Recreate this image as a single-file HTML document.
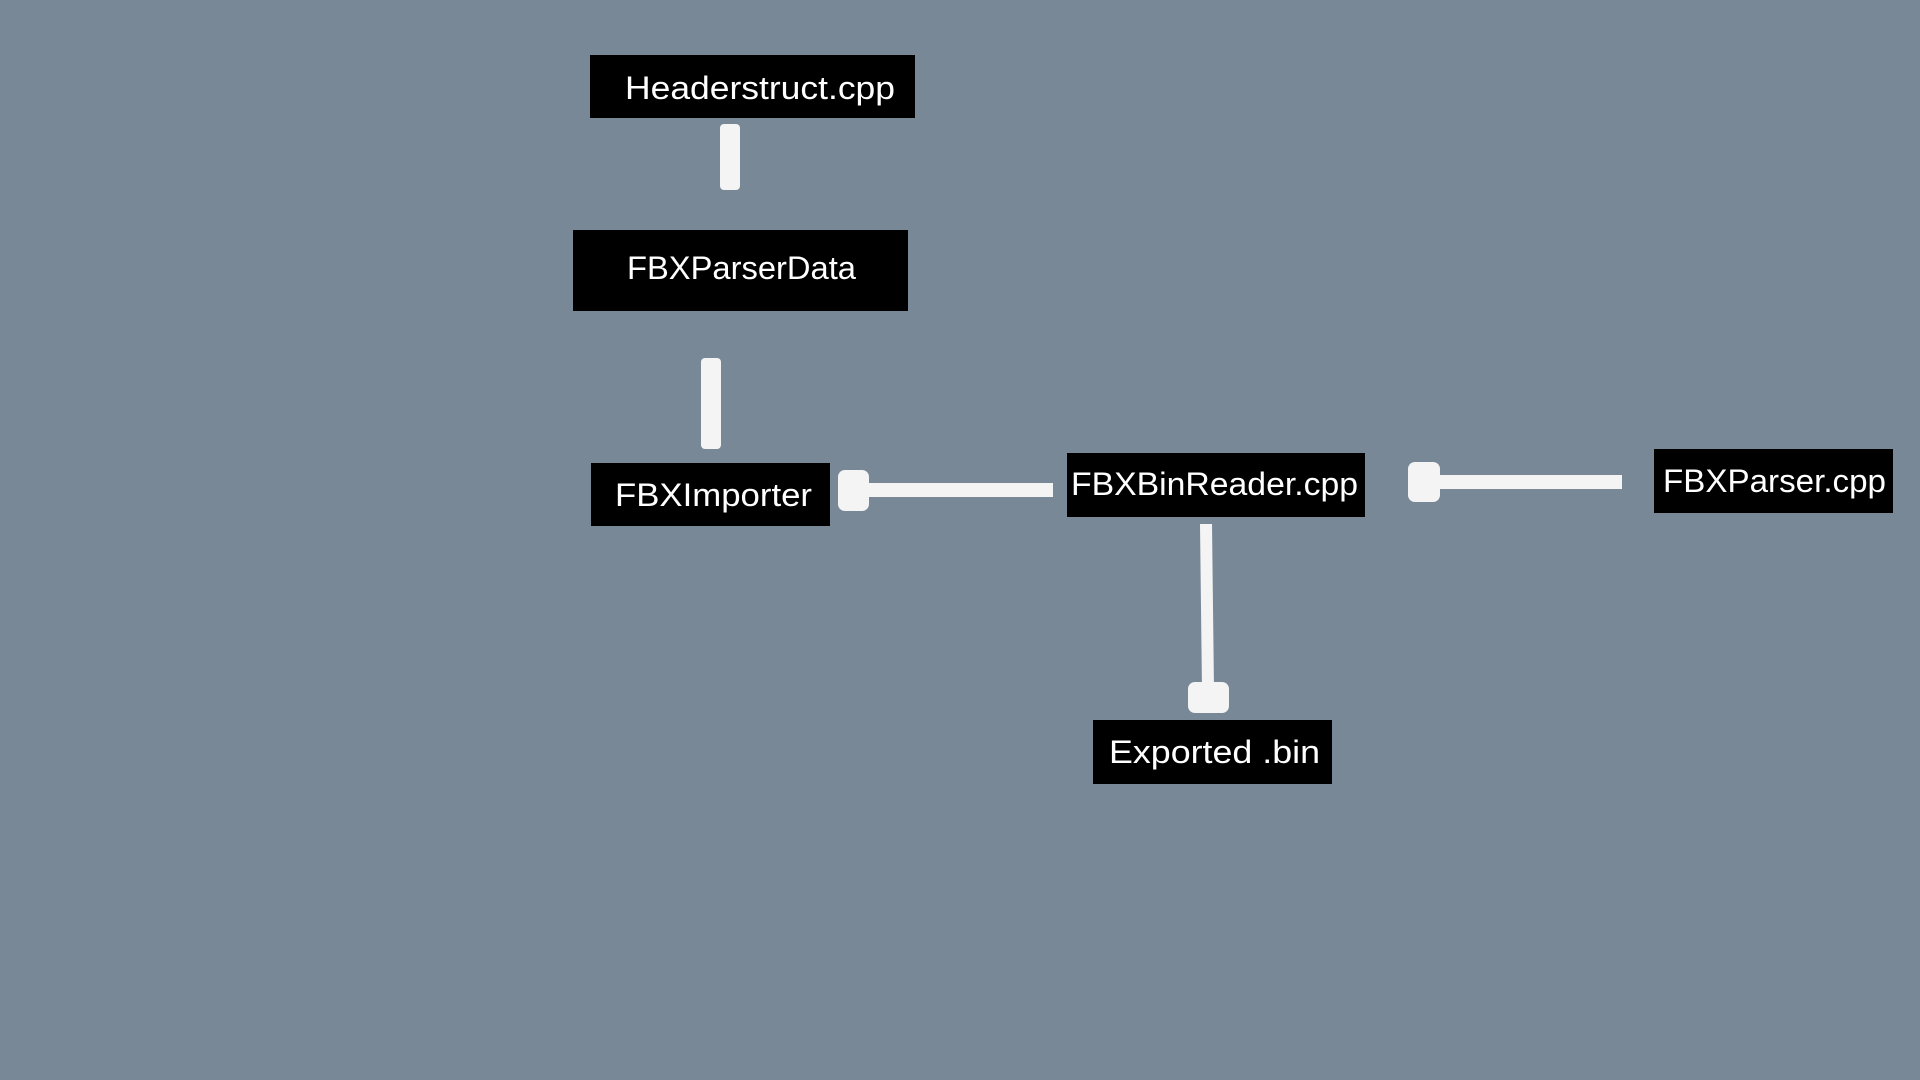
<!DOCTYPE html>
<html><head><meta charset="utf-8"><style>html,body{margin:0;padding:0;background:#798897;}svg{display:block}</style></head>
<body>
<svg width="1920" height="1080" viewBox="0 0 1920 1080" xmlns="http://www.w3.org/2000/svg">
<rect width="1920" height="1080" fill="#798897"/>
<g fill="#000">
<rect x="590" y="55" width="325" height="63"/>
<rect x="573" y="230" width="335" height="81"/>
<rect x="591" y="463" width="239" height="63"/>
<rect x="1067" y="453" width="298" height="64"/>
<rect x="1654" y="449" width="239" height="64"/>
<rect x="1093" y="720" width="239" height="64"/>
</g>
<g fill="#f4f4f4">
<rect x="720" y="124" width="20" height="66" rx="4"/>
<rect x="701" y="358" width="20" height="91" rx="4"/>
<rect x="838" y="470" width="31" height="41" rx="7"/>
<rect x="860" y="483" width="193" height="14"/>
<rect x="1408" y="462" width="32" height="40" rx="7"/>
<rect x="1430" y="475" width="192" height="14"/>
<polygon points="1200,524 1212,524 1214,690 1202,690"/>
<rect x="1188" y="682" width="41" height="31" rx="7"/>
</g>
<g fill="#fff" font-family="Liberation Sans, sans-serif" font-size="32">
<text x="625" y="99" textLength="270" lengthAdjust="spacingAndGlyphs">Headerstruct.cpp</text>
<text x="627" y="279" textLength="229" lengthAdjust="spacingAndGlyphs">FBXParserData</text>
<text x="615" y="506" textLength="197" lengthAdjust="spacingAndGlyphs">FBXImporter</text>
<text x="1071" y="495" textLength="287" lengthAdjust="spacingAndGlyphs">FBXBinReader.cpp</text>
<text x="1663" y="492" textLength="223" lengthAdjust="spacingAndGlyphs">FBXParser.cpp</text>
<text x="1109" y="763" textLength="211" lengthAdjust="spacingAndGlyphs">Exported .bin</text>
</g>
</svg>
</body></html>
